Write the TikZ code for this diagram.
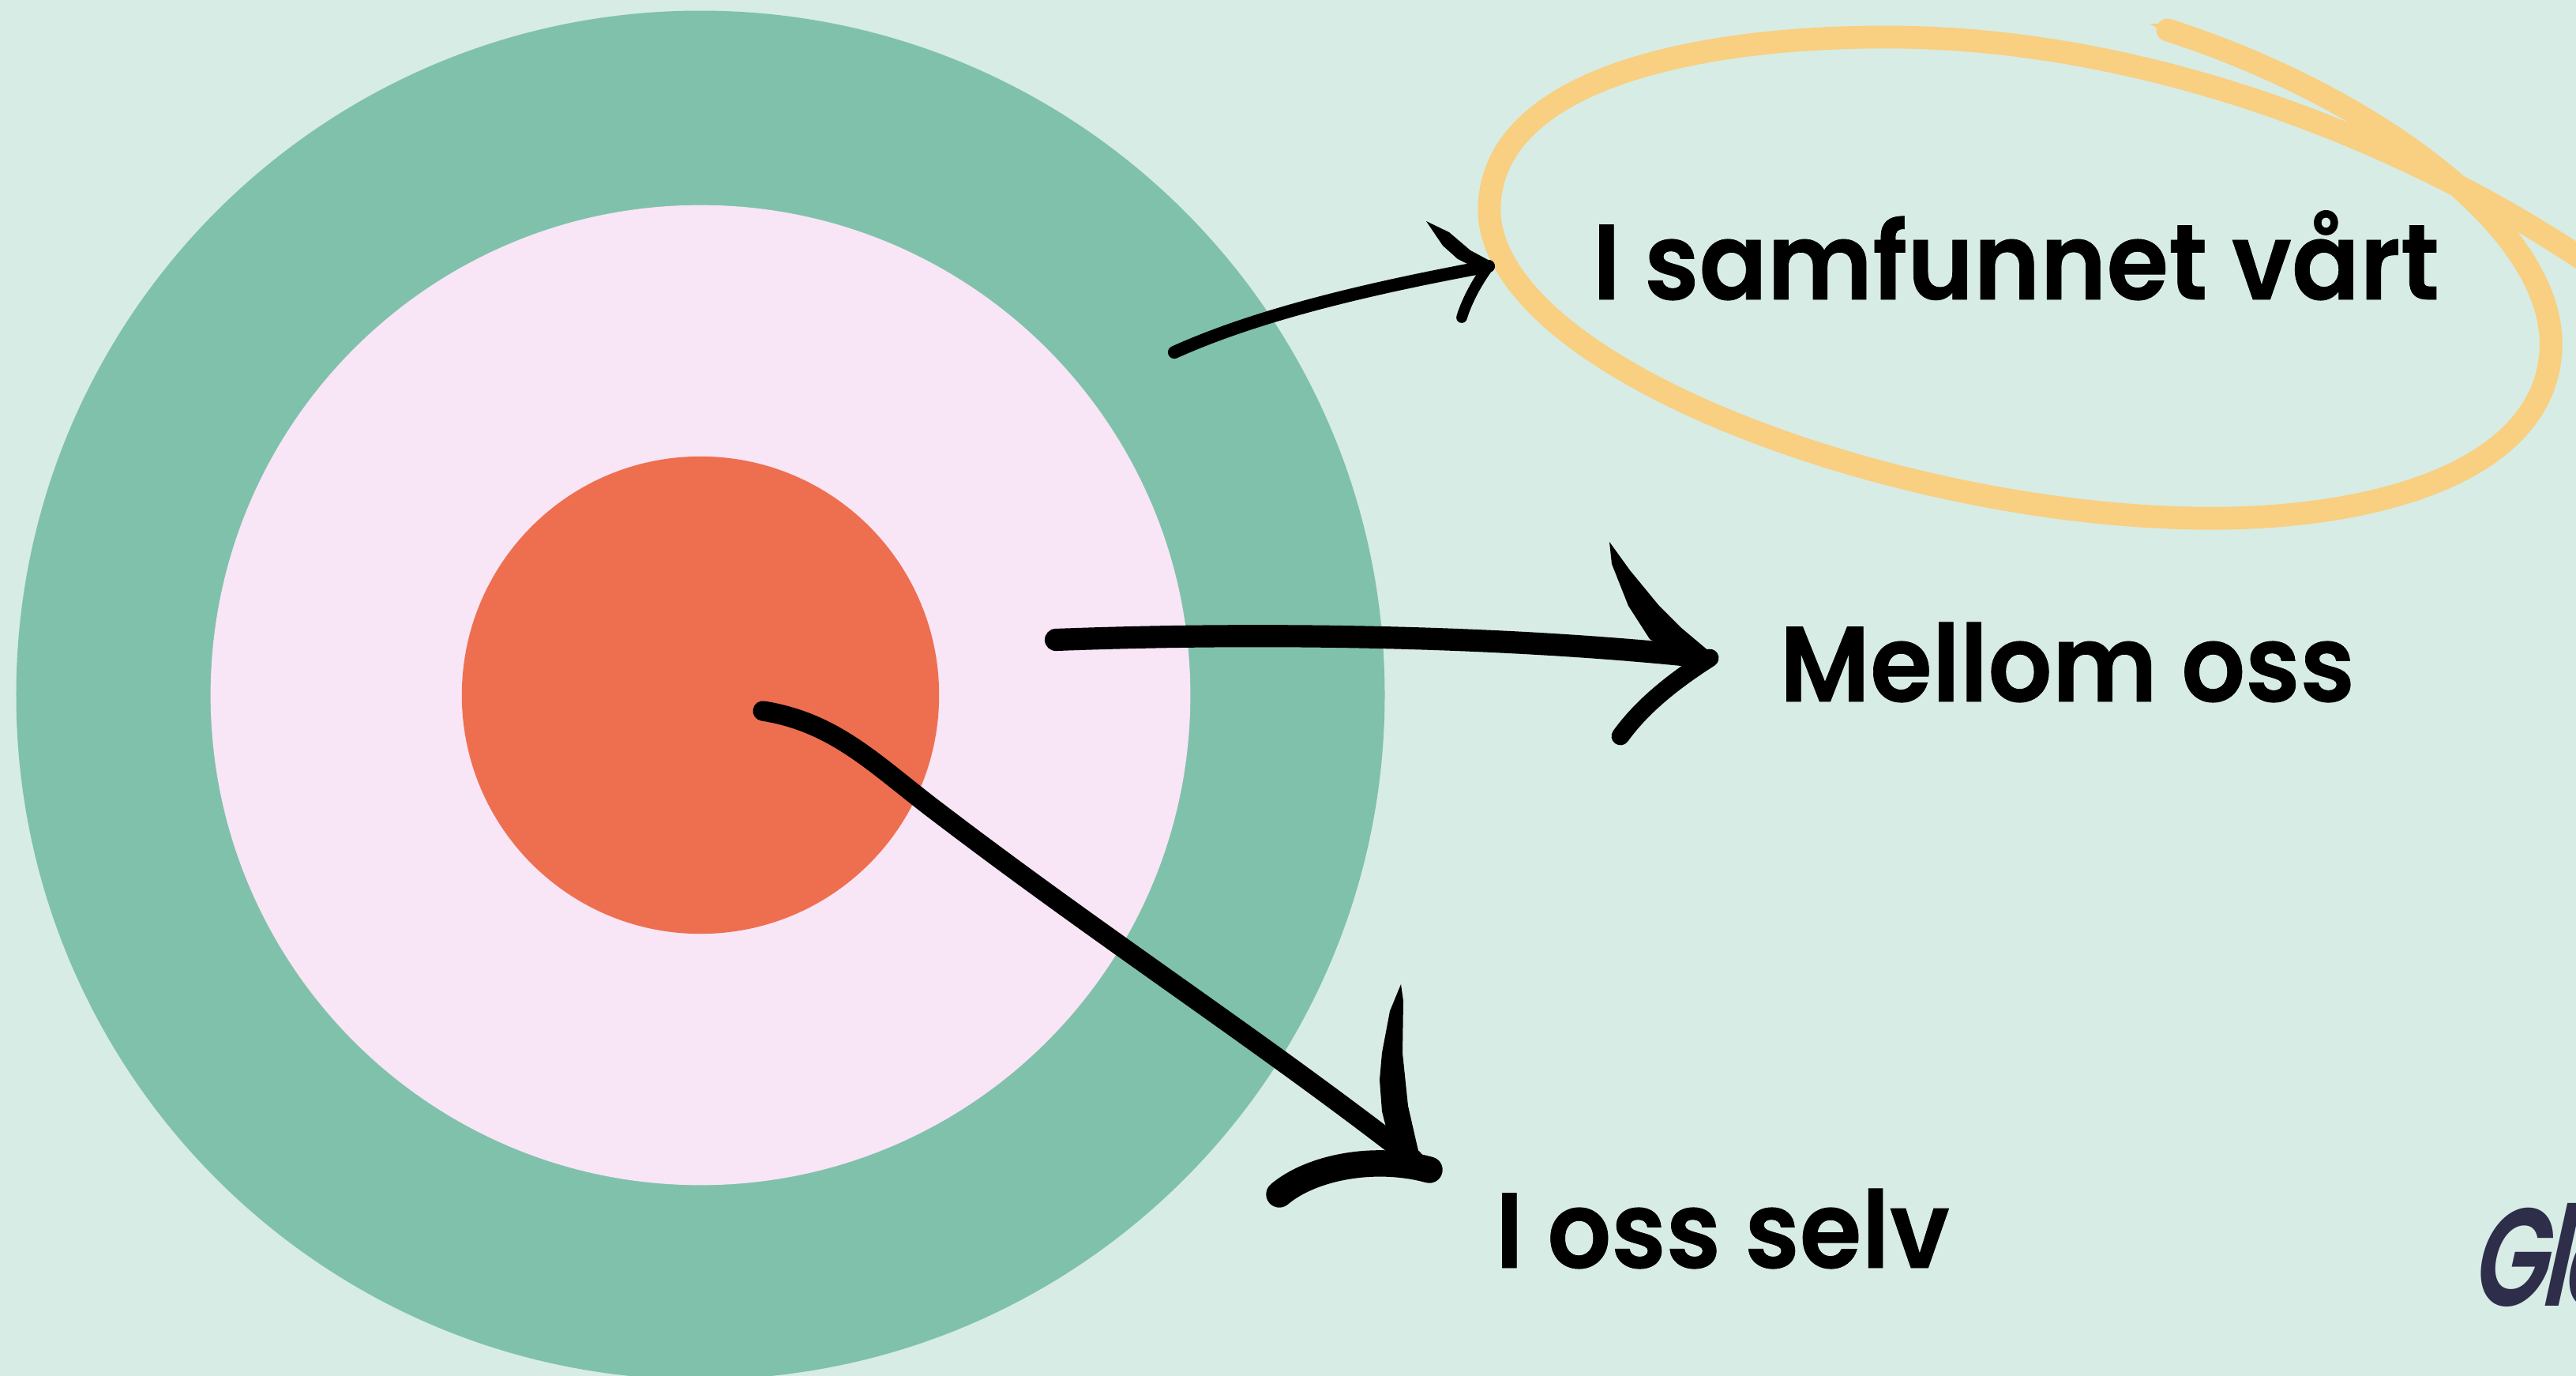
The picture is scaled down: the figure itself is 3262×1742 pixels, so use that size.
\documentclass[tikz,border=0pt]{standalone}
\usepackage{fontspec}
\IfFontExistsTF{Poppins SemiBold}
  {\newfontfamily\pop{Poppins SemiBold}[FakeStretch=0.94, FakeBold=0.5]
   \newfontfamily\glefont{Poppins SemiBold}[FakeSlant=0.22, FakeStretch=0.7, LetterSpace=-4]}
  {\newfontfamily\pop{Poppins Bold}[FakeStretch=0.915]
   \newfontfamily\glefont{Poppins}[FakeSlant=0.22, FakeStretch=0.7, FakeBold=1.5, LetterSpace=-4]}
\usetikzlibrary{calc}
\definecolor{bg}{HTML}{D7ECE4}
\definecolor{ring}{HTML}{80C1AB}
\definecolor{midc}{HTML}{F8E5F6}
\definecolor{core}{HTML}{EE6F4F}
\definecolor{loopc}{HTML}{F9CF81}
\definecolor{navy}{HTML}{2E2D4A}
\begin{document}
\begin{tikzpicture}[x=0.01cm,y=-0.01cm,
  txt/.style={font=\pop\fontsize{38.5}{40}\selectfont, anchor=base west, inner sep=0pt, text=black},
  brush/.style={draw=black, line cap=round, line join=round},
  spike/.style={fill=black}]
\fill[bg] (0,0) rectangle (3262,1742);
\useasboundingbox (0,0) rectangle (3262,1742);
\begin{scope}
\clip (0,0) rectangle (3262,1742);
% target
\fill[ring] (887,880) circle [radius=8.66cm];
\fill[midc] (887,880) circle [radius=6.2cm];
\fill[core] (887,880) circle [radius=3.02cm];
% yellow loop
\draw[loopc, line width=8.2pt, line cap=round, line join=round]
  (2745,38) .. controls (3000,120) and (3240,290) .. (3230,445)
  .. controls (3220,600) and (3000,660) .. (2780,656)
  .. controls (2400,650) and (1900,470) .. (1886,272)
  .. controls (1880,100) and (2150,45) .. (2400,47)
  .. controls (2750,50) and (3100,200) .. (3330,370);
\fill[loopc] (2722,30) -- (2760,30) -- (2760,52) -- cycle;
% labels
\node[txt] (t1) at (2016,379) {I samfunnet vårt};
\node[txt] (t2) at (2253,888) {Mellom oss};
\node[txt] (t3) at (1893,1605) {I oss selv};
\node[anchor=base west, inner sep=0pt, text=navy, font=\glefont\fontsize{50}{52}\selectfont] (gle) at (3126,1653) {Gle};
% arrow 1 (to "I samfunnet vårt")
\coordinate (a1s) at (1487,446);
\coordinate (a1t) at (1885,337);
\coordinate (a1l) at (1851,402);
\draw[brush, line width=4.6pt] (a1s) .. controls (1600,395) and (1750,362) .. (a1t);
\fill[spike] (1806,280) -- (1835,294) -- (1862,317) -- (1890,332) -- (1874,342) -- (1846,328) -- (1827,311) -- cycle;
\draw[brush, line width=3.9pt] (a1t) .. controls (1868,360) and (1856,385) .. (a1l);
% arrow 2 (to "Mellom oss")
\coordinate (a2s) at (1337,810);
\coordinate (a2t) at (2165,833);
\coordinate (a2l) at (2052,932);
\draw[brush, line width=8pt] (a2s) .. controls (1600,800) and (1900,805) .. (2150,831);
\fill[spike] (2038,686) -- (2064,722) -- (2101,767) -- (2128,794) -- (2166,826) -- (2142,841) -- (2089,809) -- (2062,767) -- (2041,714) -- cycle;
\draw[brush, line width=6.5pt] (a2t) .. controls (2110,868) and (2075,900) .. (a2l);
% arrow 3 (to "I oss selv")
\coordinate (a3s) at (966,900);
\coordinate (a3t) at (1790,1468);
\coordinate (a3l) at (1620,1512);
\draw[brush, line width=7.2pt] (a3s) .. controls (1060,915) and (1110,970) .. (1190,1030)
  .. controls (1400,1190) and (1600,1320) .. (a3t);
\fill[spike] (1774,1246) -- (1777,1267) -- (1776,1333) -- (1783,1400) -- (1799,1470) -- (1766,1470) -- (1750,1407) -- (1747,1367) -- (1750,1333) -- (1760,1280) -- cycle;
\draw[brush, line width=9.5pt] (1810,1481) .. controls (1740,1462) and (1660,1478) .. (a3l);
\end{scope}
\end{tikzpicture}
\end{document}
